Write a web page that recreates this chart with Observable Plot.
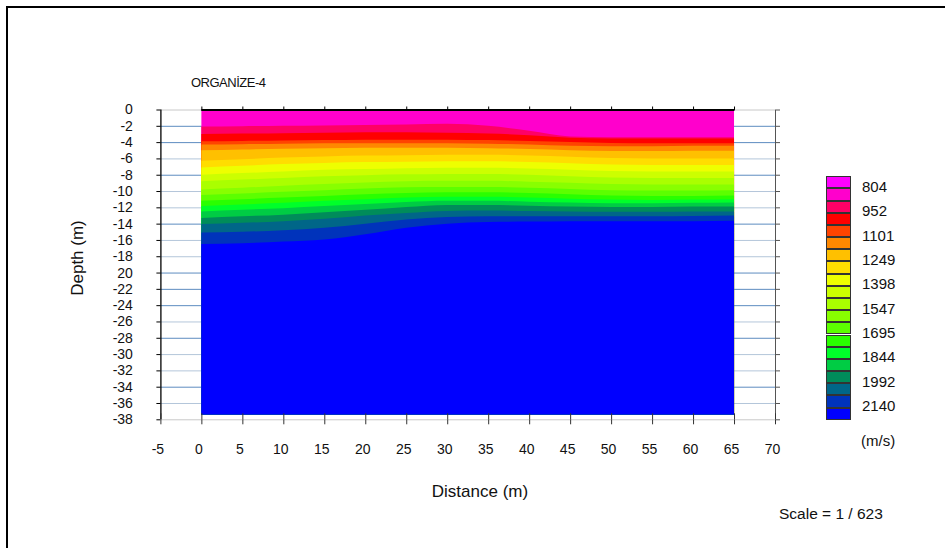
<!DOCTYPE html>
<html><head><meta charset="utf-8">
<script src="https://cdn.jsdelivr.net/npm/d3@7"></script>
<script src="https://cdn.jsdelivr.net/npm/@observablehq/plot@0.6"></script>
<style>
body{margin:0;background:#fff;}
#wrap{position:relative;width:945px;height:548px;overflow:hidden;background:#fff;font-family:"Liberation Sans",Arial,sans-serif;color:#111;}
#chart{position:absolute;left:0;top:0;}
.abs{position:absolute;white-space:nowrap;line-height:1;}
</style></head><body>
<div id="wrap"><div id="chart"></div></div>
<script>
// ---- data ----
const title = "ORGANİZE-4";
const xLabel = "Distance (m)";
const yLabel = "Depth (m)";
const unitLabel = "(m/s)";
const scaleText = "Scale = 1 / 623";

const xTicks = [-5, 0, 5, 10, 15, 20, 25, 30, 35, 40, 45, 50, 55, 60, 65, 70];
const xTickLabels = ["-5","0","5","10","15","20","25","30","35","40","45","50","55","60","65","70"];
const yTicks = [0,-2,-4,-6,-8,-10,-12,-14,-16,-18,-20,-22,-24,-26,-28,-30,-32,-34,-36,-38];
const yTickLabels = ["0","-2","-4","-6","-8","-10","-12","-14","-16","-18","20","-22","-24","-26","-28","-30","-32","-34","-36","-38"];

// velocity classes (m/s)
const legendLabels = ["804","952","1101","1249","1398","1547","1695","1844","1992","2140"];
const classColors = ["#ff00ff","#ff00cc","#ff0066","#ff0000","#ff4400","#ff8800","#ffc000","#ffdd00","#eeff00","#ccff00",
                     "#aaff00","#88ff00","#5cff00","#2aff00","#00ff2a","#00cc44","#008c5a","#006688","#0033bb","#0000ff"];

// section profile positions (m) and depths (m) of each velocity contour
const distance = [0, 5, 10, 15, 20, 25, 30, 35, 40, 45, 50, 55, 60, 65];
const profileBottom = 37.4;
const depth878  = [2.1, 2.05, 2.0, 1.95, 1.9, 1.85, 1.75, 2.0, 2.6, 3.3, 3.4, 3.4, 3.4, 3.4];
const depth952  = [3.0, 2.95, 2.9, 2.85, 2.8, 2.8, 2.85, 2.95, 3.15, 3.45, 3.55, 3.55, 3.55, 3.55];
const depth1027 = [3.9, 3.85, 3.8, 3.75, 3.7, 3.7, 3.7, 3.75, 3.85, 4.0, 4.1, 4.15, 4.15, 4.15];
const depth1101 = [4.3, 4.25, 4.2, 4.15, 4.15, 4.15, 4.15, 4.2, 4.3, 4.45, 4.5, 4.5, 4.45, 4.45];
const depth1175 = [5.0, 4.9, 4.8, 4.75, 4.7, 4.7, 4.7, 4.75, 4.85, 5.0, 5.1, 5.1, 5.05, 5.05];
const depth1249 = [6.3, 6.1, 5.9, 5.75, 5.65, 5.6, 5.55, 5.55, 5.65, 5.8, 5.95, 6.0, 6.0, 6.0];
const depth1324 = [7.1, 6.9, 6.7, 6.55, 6.45, 6.4, 6.35, 6.35, 6.45, 6.6, 6.75, 6.8, 6.8, 6.8];
const depth1398 = [8.0, 7.8, 7.6, 7.4, 7.3, 7.2, 7.15, 7.15, 7.25, 7.4, 7.55, 7.6, 7.6, 7.6];
const depth1472 = [8.8, 8.6, 8.4, 8.2, 8.05, 7.95, 7.9, 7.9, 8.0, 8.2, 8.35, 8.4, 8.4, 8.4];
const depth1547 = [9.8, 9.6, 9.35, 9.15, 8.95, 8.8, 8.75, 8.75, 8.85, 9.0, 9.15, 9.2, 9.2, 9.2];
const depth1621 = [10.5, 10.3, 10.1, 9.9, 9.7, 9.55, 9.5, 9.5, 9.6, 9.75, 9.9, 9.95, 9.95, 9.9];
const depth1695 = [11.2, 11.0, 10.8, 10.6, 10.4, 10.25, 10.15, 10.15, 10.25, 10.4, 10.55, 10.6, 10.6, 10.55];
const depth1769 = [11.85, 11.65, 11.45, 11.2, 11.0, 10.8, 10.7, 10.7, 10.8, 10.95, 11.05, 11.1, 11.05, 11.0];
const depth1844 = [12.5, 12.3, 12.1, 11.85, 11.6, 11.35, 11.2, 11.2, 11.3, 11.4, 11.5, 11.5, 11.45, 11.4];
const depth1918 = [13.3, 13.1, 12.9, 12.6, 12.3, 11.95, 11.7, 11.7, 11.8, 11.9, 11.95, 11.95, 11.9, 11.9];
const depth1992 = [14.05, 13.9, 13.7, 13.4, 13.0, 12.7, 12.45, 12.4, 12.45, 12.5, 12.55, 12.55, 12.5, 12.5];
const depth2066 = [15.1, 15.0, 14.8, 14.5, 14.0, 13.5, 13.2, 13.1, 13.1, 13.1, 13.1, 13.1, 13.05, 13.0];
const depth2140 = [16.5, 16.4, 16.2, 15.95, 15.3, 14.5, 14.0, 13.8, 13.75, 13.7, 13.7, 13.7, 13.7, 13.65];

// ---- build ----
const surface = distance.map(() => 0);
// top boundary of each class present in the section (class 1 .. class 19)
const classTops = [surface, depth878, depth952, depth1027, depth1101, depth1175, depth1249, depth1324, depth1398,
  depth1472, depth1547, depth1621, depth1695, depth1769, depth1844, depth1918, depth1992, depth2066, depth2140];

const bandMarks = classTops.map((tops, k) => {
  const rows = distance.map((x, i) => ({x, top: -tops[i], bottom: -profileBottom}));
  return Plot.areaY(rows, {x: "x", y1: "bottom", y2: "top", fill: classColors[k + 1], curve: "monotone-x"});
});

const xLab = new Map(xTicks.map((v, i) => [v, xTickLabels[i]]));
const yLab = new Map(yTicks.map((v, i) => [v, yTickLabels[i]]));
const xDomain = [d3.min(xTicks), d3.max(xTicks)];
const yDomain = [d3.min(yTicks), d3.max(yTicks)];
const gridDark = [-2,-4,-8,-14,-20,-22,-24,-28,-34];
const gridLight = yTicks.filter(v => v !== 0 && v !== yDomain[0] && !gridDark.includes(v));
const topTicks = xTicks.filter(v => v >= d3.min(distance) && v <= d3.max(distance));

const chart = Plot.plot({
  width: 945, height: 548,
  marginLeft: 160.4, marginRight: 170, marginTop: 109.5, marginBottom: 128.7,
  style: {fontFamily: "'Liberation Sans', Arial, sans-serif", fontSize: "14px", background: "transparent", color: "#111", overflow: "visible"},
  x: {domain: xDomain},
  y: {domain: yDomain},
  marks: [
    Plot.gridY(gridLight, {stroke: "#b4c6da", strokeOpacity: 1}),
    Plot.gridY(gridDark, {stroke: "#5d8cc0", strokeOpacity: 1}),
    Plot.gridY([yDomain[1], yDomain[0]], {stroke: "#c8c8c8", strokeOpacity: 1}),
    ...bandMarks,
    Plot.ruleY([0], {x1: d3.min(distance), x2: d3.max(distance), stroke: "#000", strokeWidth: 2}),
    Plot.ruleX([xDomain[0]], {y1: yDomain[0], y2: yDomain[1], stroke: "#000", strokeWidth: 1.3}),
    Plot.ruleX([xDomain[1]], {y1: yDomain[0], y2: yDomain[1], stroke: "#555", strokeWidth: 1}),
    Plot.axisY(yTicks, {anchor: "left", label: null, tickSize: 4, tickPadding: 24, tickFormat: d => yLab.get(d), fontSize: 14, stroke: "#000"}),
    Plot.axisY(yTicks, {anchor: "right", label: null, tickSize: 4, tickFormat: () => "", stroke: "#555"}),
    Plot.axisX(topTicks, {anchor: "top", label: null, tickSize: 4, tickFormat: () => "", stroke: "#000"}),
    Plot.axisX(xTicks, {anchor: "bottom", label: null, tickSize: 0, tickPadding: 24, dx: -3, tickFormat: d => xLab.get(d), fontSize: 14}),
    Plot.axisX(xTicks, {anchor: "bottom", label: null, tickSize: 5, tickFormat: () => "", stroke: "#333"}),
    Plot.axisX(xTicks, {anchor: "bottom", label: null, tickSize: -6, tickFormat: () => "", stroke: "#333"})
  ]
});
const wrap = document.getElementById("wrap");
document.getElementById("chart").appendChild(chart);

function addText(txt, css) {
  const d = document.createElement("div");
  d.className = "abs";
  d.textContent = txt;
  Object.assign(d.style, css);
  wrap.appendChild(d);
  return d;
}
// frame
const frame = document.createElement("div");
Object.assign(frame.style, {position: "absolute", left: "6.3px", top: "5.7px", width: "960px", height: "560px",
  borderLeft: "2px solid #000", borderTop: "2px solid #000"});
wrap.appendChild(frame);

addText(title, {left: "191px", top: "76px", fontSize: "13px", letterSpacing: "-0.5px"});
addText(xLabel, {left: "480px", top: "491px", fontSize: "17px", transform: "translate(-50%,-50%)"});
addText(yLabel, {left: "77px", top: "258px", fontSize: "17px", transform: "translate(-50%,-50%) rotate(-90deg)"});
addText(scaleText, {left: "779px", top: "506px", fontSize: "15.5px", wordSpacing: "0px"});

// legend
const lgX = 826, lgY = 176.3, lgW = 25, lgH = 12.17;
classColors.forEach((c, k) => {
  const b = document.createElement("div");
  Object.assign(b.style, {position: "absolute", left: lgX + "px", top: (lgY + k * lgH) + "px", width: lgW + "px",
    height: lgH + "px", background: c, boxSizing: "border-box", border: "1px solid #333"});
  wrap.appendChild(b);
});
legendLabels.forEach((t, i) => {
  const yb = lgY + (2 * i + 1) * lgH;
  addText(t, {left: "862px", top: (yb - 2.5) + "px", fontSize: "15px", transform: "translateY(-50%)"});
});
addText(unitLabel, {left: "861px", top: "440px", fontSize: "15px", transform: "translateY(-50%)"});
</script>
</body></html>
